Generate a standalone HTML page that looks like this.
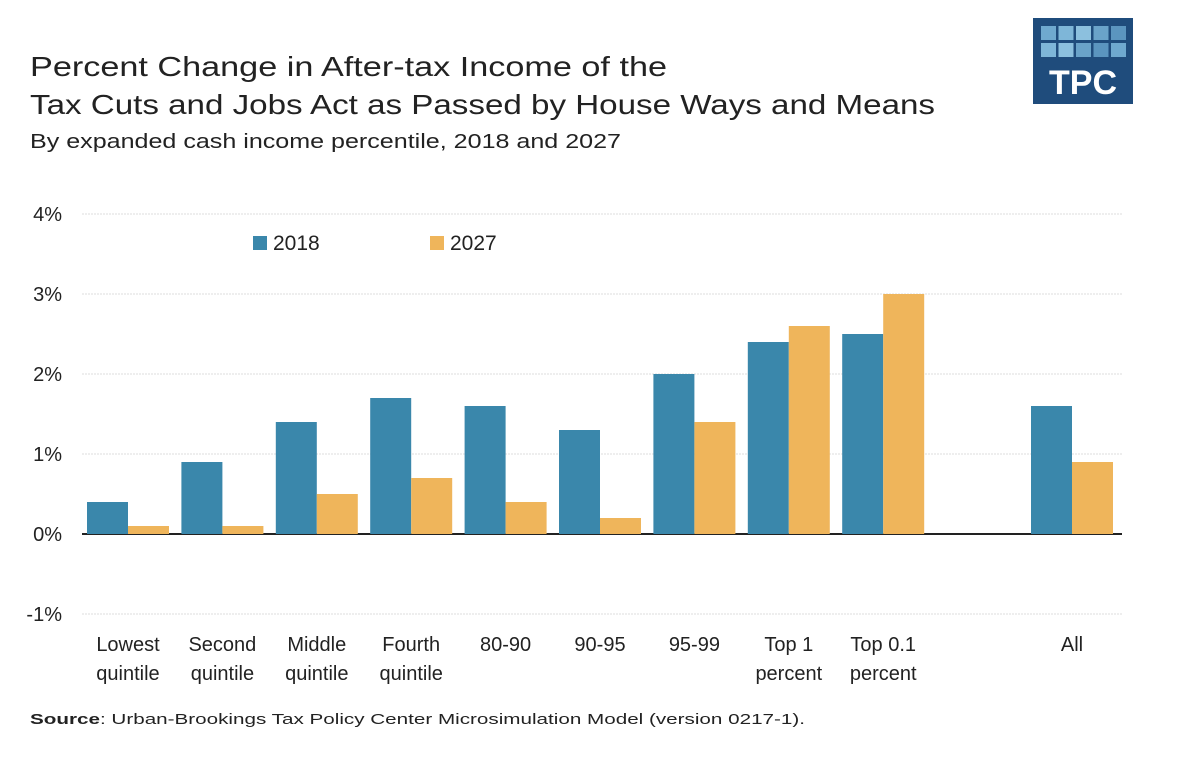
<!DOCTYPE html>
<html><head><meta charset="utf-8"><style>
body{margin:0;background:#fff;width:1200px;height:760px;overflow:hidden;font-family:"Liberation Sans",sans-serif;}
</style></head><body>
<svg width="1200" height="760" viewBox="0 0 1200 760">
<text x="30" y="76" font-size="28" fill="#222" textLength="637" lengthAdjust="spacingAndGlyphs">Percent Change in After-tax Income of the</text>
<text x="30" y="114" font-size="28" fill="#222" textLength="905" lengthAdjust="spacingAndGlyphs">Tax Cuts and Jobs Act as Passed by House Ways and Means</text>
<text x="30" y="148" font-size="20" fill="#222" textLength="591" lengthAdjust="spacingAndGlyphs">By expanded cash income percentile, 2018 and 2027</text>
<g>
<rect x="1033" y="18" width="100" height="86" fill="#1f4c7c"/>
<g id="logo-sq"></g>
<text x="1083" y="94" font-size="34" font-weight="bold" fill="#fff" text-anchor="middle">TPC</text>
</g>
<g id="grid"></g>
<g id="bars"></g>
<g id="xlabels"></g>
<g>
<rect x="253" y="236" width="14" height="14" fill="#3a87ab"/>
<text x="273" y="250" font-size="21" fill="#222">2018</text>
<rect x="430" y="236" width="14" height="14" fill="#efb55b"/>
<text x="450" y="250" font-size="21" fill="#222">2027</text>
</g>
<text x="30" y="724" font-size="15" fill="#222" textLength="775" lengthAdjust="spacingAndGlyphs"><tspan font-weight="bold">Source</tspan>: Urban-Brookings Tax Policy Center Microsimulation Model (version 0217-1).</text>
</svg>
<script>
const categories=[["Lowest","quintile"],["Second","quintile"],["Middle","quintile"],["Fourth","quintile"],["80-90"],["90-95"],["95-99"],["Top 1","percent"],["Top 0.1","percent"],null,["All"]];
const values2018=[0.4,0.9,1.4,1.7,1.6,1.3,2.0,2.4,2.5,null,1.6];
const values2027=[0.1,0.1,0.5,0.7,0.4,0.2,1.4,2.6,3.0,null,0.9];
const yTicks=[4,3,2,1,0,-1];
const NS="http://www.w3.org/2000/svg";
function y(v){return 534-v*80;}
function slotX(i){return 87+i*94.4;}
function mk(tag,attrs,parent){const e=document.createElementNS(NS,tag);for(const k in attrs)e.setAttribute(k,attrs[k]);parent.appendChild(e);return e;}
const grid=document.getElementById('grid');
yTicks.forEach(t=>{
  const l=mk('line',{x1:82,x2:1122,y1:y(t),y2:y(t),stroke:t===0?'#222':'#ddd','stroke-width':t===0?2:1,'stroke-dasharray':t===0?'':'2,1'},grid);
  
  
  const tx=mk('text',{x:62,y:y(t)+7,'font-size':20,fill:'#222','text-anchor':'end'},grid);
  tx.textContent=t+'%';
  
  
});
const bars=document.getElementById('bars');
categories.forEach((c,i)=>{
  if(!c)return;
  const x=slotX(i);
  [[values2018[i],'#3a87ab',0,'bar-2018'],[values2027[i],'#efb55b',41,'bar-2027']].forEach(([v,col,off,nm])=>{
    const r=mk('rect',{x:x+off,y:Math.min(y(v),y(0)),width:41,height:Math.abs(y(v)-y(0)),fill:col},bars);
    
    
  });
  const xl=document.getElementById('xlabels');
  c.forEach((s,j)=>{
    const t=mk('text',{x:x+41,y:651+j*29,'font-size':20,fill:'#222','text-anchor':'middle'},xl);
    t.textContent=s;
    
    
  });
});
const sq=document.getElementById('logo-sq');
for(let r=0;r<2;r++)for(let c=0;c<5;c++){
  const s=mk('rect',{x:1041+c*17.5,y:26+r*17,width:15,height:14,fill:['#6fa9cf','#7eb6d8','#8cc0de','#6aa3c9','#5b95bf'][(c+r)%5]},sq);
  
  
}
</script>
</body></html>
